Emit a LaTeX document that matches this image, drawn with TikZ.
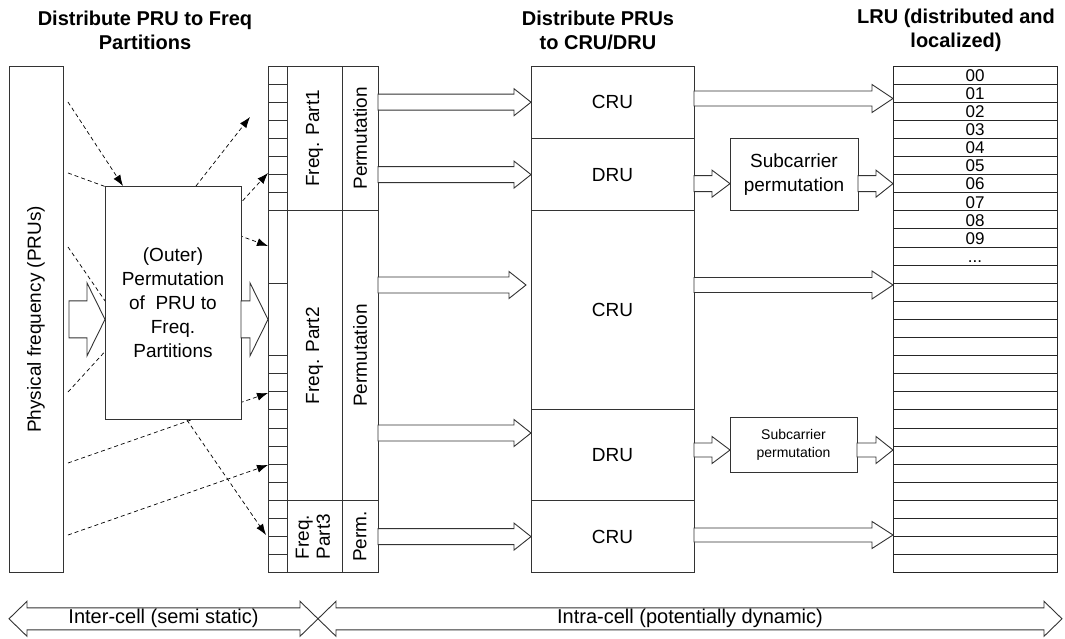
\documentclass[tikz,border=0pt]{standalone}
\usepackage{fontspec}
\setmainfont{Liberation Sans}
\usepackage{graphicx}
\usetikzlibrary{arrows.meta, positioning, calc}

\begin{document}
\begin{tikzpicture}[
      x=1pt,
      y=-1pt,
      node distance=0pt,
      every node/.style={inner sep=0pt, outer sep=0pt},
      box/.style={
          rectangle,
          draw=black!80,
          line width=0.9pt,
          fill=white,
          align=center,
          font=\fontsize{19}{24}\selectfont
        },
      row/.style={
          rectangle,
          draw=black!85,
          line width=0.9pt,
          minimum width=164pt,
          minimum height=18.1pt,
          text height=12.5pt,
          text depth=0pt,
          font=\fontsize{17}{17}\selectfont
        },
      head/.style={
          align=center,
          font=\bfseries\fontsize{20}{24}\selectfont
        },
      hint/.style={
          line width=0.7pt,
          dash pattern=on 4pt off 3pt,
          -{Latex[length=11pt,width=8pt]}
        },
      fat/.style n args={3}{
          draw=black!80,
          line width=0.9pt,
          fill=white,
          to path={
              let \p1=(\tikztostart), \p2=(\tikztotarget) in
              (\x1,\y1+#1pt) -- (\x2-#3pt,\y1+#1pt) -- (\x2-#3pt,\y1+#2pt)
              -- (\x2,\y1) -- (\x2-#3pt,\y1-#2pt) -- (\x2-#3pt,\y1-#1pt)
              -- (\x1,\y1-#1pt) -- cycle
            }
        },
      fatboth/.style n args={3}{
          draw=black!80,
          line width=0.9pt,
          fill=white,
          to path={
              let \p1=(\tikztostart), \p2=(\tikztotarget) in
              (\x1,\y1) -- (\x1+#3pt,\y1+#2pt) -- (\x1+#3pt,\y1+#1pt)
              -- (\x2-#3pt,\y1+#1pt) -- (\x2-#3pt,\y1+#2pt) -- (\x2,\y1)
              -- (\x2-#3pt,\y1-#2pt) -- (\x2-#3pt,\y1-#1pt)
              -- (\x1+#3pt,\y1-#1pt) -- (\x1+#3pt,\y1-#2pt) -- cycle
            }
        }
    ]
    \useasboundingbox (0,0) rectangle (1065,639);

    % Headers
    \node[head] (hfreq) at (145,30) {Distribute PRU to Freq\\Partitions};
    \node[head] (hdist) at (598,30) {Distribute PRUs\\to CRU/DRU};
    \node[head] (hlru) at (956,30) {LRU (distributed and\\localized)};

    % Frequency partitions
    \node[box, minimum width=54pt, minimum height=506.8pt, anchor=north west] (phys) at (9,66) {\rotatebox{90}{Physical frequency (PRUs)}};
    \node[box, minimum width=19pt, minimum height=506.8pt, anchor=north west] (cells) at (268,66) {};
    \foreach \k in {1,...,8,12,16,17,...,27}
      \draw[black!80, line width=0.9pt] ($(cells.north west)+(0,18.1*\k)$) -- ($(cells.north east)+(0,18.1*\k)$);
    \node[box, minimum width=55pt, minimum height=144.8pt, anchor=north west] (fp1) at (cells.north east) {\rotatebox{90}{Freq. Part1}};
    \node[box, minimum width=55pt, minimum height=289.6pt, below=of fp1] (fp2) {\rotatebox{90}{Freq. Part2}};
    \node[box, minimum width=55pt, minimum height=72.4pt, below=of fp2] (fp3) {\rotatebox{90}{\begin{tabular}{@{}l@{}}Freq.\\[-3pt]Part3\end{tabular}}};
    \node[box, minimum width=36pt, minimum height=144.8pt, right=of fp1] (pm1) {\rotatebox{90}{Permutation}};
    \node[box, minimum width=36pt, minimum height=289.6pt, right=of fp2] (pm2) {\rotatebox{90}{Permutation}};
    \node[box, minimum width=36pt, minimum height=72.4pt, right=of fp3] (pm3) {\rotatebox{90}{Perm.}};

    % CRU/DRU
    \node[box, minimum width=163pt, minimum height=72.4pt, anchor=north west] (cru1) at (531,66) {CRU};
    \node[box, minimum width=163pt, minimum height=72.4pt, below=of cru1] (dru1) {DRU};
    \node[box, minimum width=163pt, minimum height=199.1pt, below=of dru1] (cru2) {CRU};
    \node[box, minimum width=163pt, minimum height=90.5pt, below=of cru2] (dru2) {DRU};
    \node[box, minimum width=163pt, minimum height=72.4pt, below=of dru2] (cru3) {CRU};
    \node[box, minimum width=128pt, minimum height=72.4pt, right=36pt of dru1] (sub1) {Subcarrier\\permutation};
    \node[box, minimum width=127pt, minimum height=55pt, anchor=west, font=\fontsize{14}{18}\selectfont] (sub2) at ($(dru2.east)+(36,-10)$) {Subcarrier\\permutation};

    % LRU
    \foreach \i in {0,...,27}
      \node[row, anchor=north west] (lru\i) at (893,{66+18.1*\i}) {\ifnum\i<10 0\i\else\ifnum\i=10 ...\fi\fi};

    % Dashed mapping
    \draw[hint] ($(phys.east |- 0,173)+(5,0)$) -- (cells.west |- 0,246);
    \draw[hint] ($(phys.east |- 0,247)+(5,0)$) -- ($(cells.west |- 0,535)+(-2,0)$);
    \draw[hint] ($(phys.east |- 0,392)+(5,0)$) -- (cells.west |- 0,173);
    \draw[hint] ($(phys.east |- 0,463)+(5,0)$) -- (cells.west |- 0,393);
    \draw[hint] ($(phys.east |- 0,535)+(5,0)$) -- (cells.west |- 0,465);

    \node[box, minimum width=136pt, minimum height=233pt, anchor=north west] (outer) at (105,186) {(Outer)\\Permutation\\of \ PRU to\\Freq.\\Partitions};
    \coordinate (gap) at ($(cells.north west)+(-18,51)$);
    \draw[hint] ($(phys.east |- 0,102)+(5,0)$) -- ($(outer.north west)+(18,0)$);
    \draw[hint] ($(outer.north west)+(91,0)$) -- (gap);

    % Block arrows
    \draw[fat={18.5}{36.5}{18}] ($(phys.east)+(6,0)$) to (outer.west |- phys);
    \draw[fat={18.5}{36.5}{18}] (outer.east |- phys) to (cells.west |- phys);
    \draw[fat={8}{13.5}{17}] (pm1.east |- cru1) to (cru1.west);
    \draw[fat={8}{13.5}{17}] (pm1.east |- dru1) to (dru1.west);
    \draw[fat={8}{13.5}{17}] (pm2.east |- 0,285) to ($(cru2.west |- 0,285)+(-5,0)$);
    \draw[fat={8}{13.5}{17}] (pm2.east |- 0,433) to (dru2.west |- 0,433);
    \draw[fat={8}{13.5}{17}] (pm3.east |- cru3) to (cru3.west);
    \draw[fat={7.5}{14}{21}] (cru1.east |- 0,98.5) to (lru0.west |- 0,98.5);
    \draw[fat={8}{13.5}{18}] (dru1.east |- lru6) to (sub1.west |- lru6);
    \draw[fat={8}{13.5}{17}] (sub1.east |- lru6) to (lru6.west);
    \draw[fat={7.5}{14}{21}] (cru2.east |- 0,285) to (lru0.west |- 0,285);
    \draw[fat={7}{13.5}{18}] (dru2.east |- 0,450) to (sub2.west |- 0,450);
    \draw[fat={7}{13.5}{17}] (sub2.east |- 0,450) to (lru0.west |- 0,450);
    \draw[fat={7}{13.5}{21}] (cru3.east |- 0,535) to (lru0.west |- 0,535);

    % Scope
    \coordinate (bl) at ($(phys.south west)+(0,46)$);
    \coordinate (bm) at ($(pm3.south east)+(-60,46)$);
    \coordinate (br) at ($(lru27.south east)+(5,46)$);
    \draw[fatboth={11}{17.5}{18}] (bl) to (bm);
    \draw[fatboth={11}{17.5}{18}] (bm) to (br);
    \node[font=\fontsize{20}{24}\selectfont] (inter) at ($(bl)!0.5!(bm)$) {Inter-cell (semi static)};
    \node[font=\fontsize{20}{24}\selectfont] (intra) at ($(bm)!0.5!(br)$) {Intra-cell (potentially dynamic)};

  \end{tikzpicture}
\end{document}
